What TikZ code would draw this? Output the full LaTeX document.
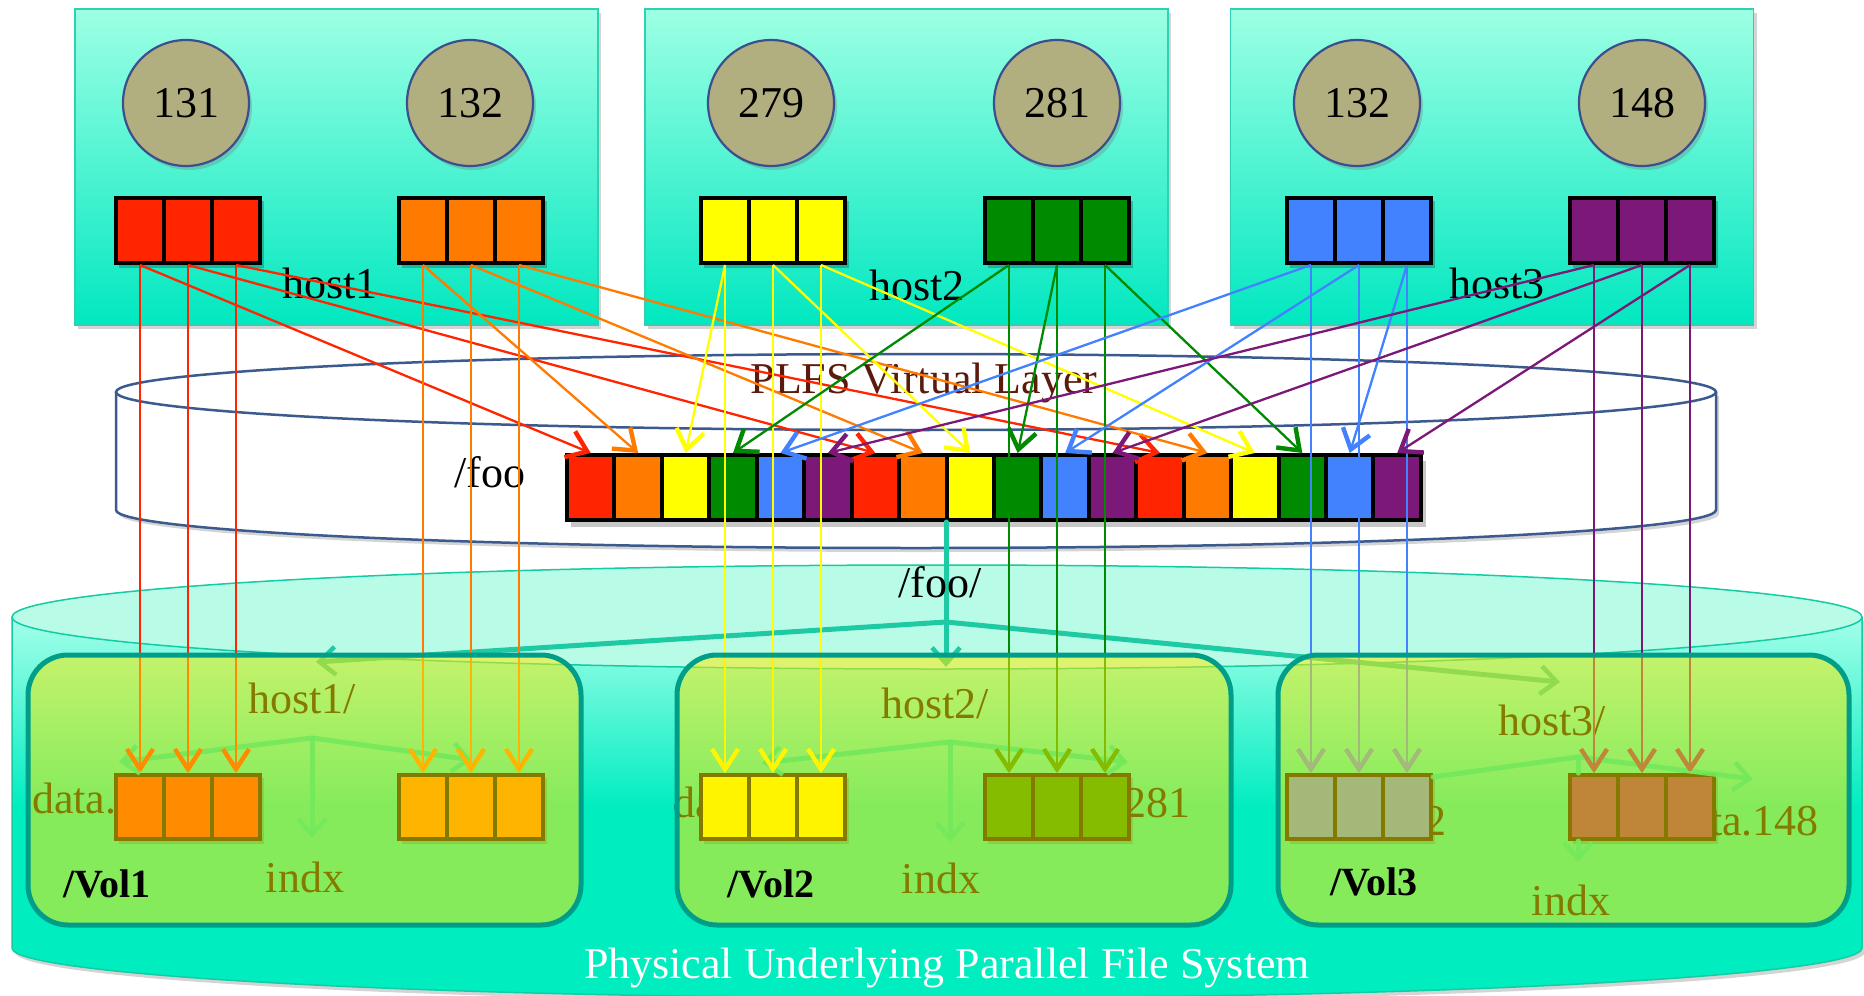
\documentclass[tikz,border=0pt]{standalone}
\usepackage{fontspec}
\setmainfont{Liberation Serif}
\usetikzlibrary{arrows.meta,shadows}

\definecolor{cRed}{HTML}{FF2500}
\definecolor{cOrange}{HTML}{FF7B00}
\definecolor{cYellow}{HTML}{FFFF00}
\definecolor{cGreen}{HTML}{008A00}
\definecolor{cBlue}{HTML}{4282FF}
\definecolor{cPurple}{HTML}{7B1878}
\definecolor{volTint}{RGB}{255,235,0}
\colorlet{pal0}{cRed}
\colorlet{pal1}{cOrange}
\colorlet{pal2}{cYellow}
\colorlet{pal3}{cGreen}
\colorlet{pal4}{cBlue}
\colorlet{pal5}{cPurple}
% the same colours seen through the tinted volume panels
\colorlet{tint0}{volTint!52!cRed}
\colorlet{tint1}{volTint!52!cOrange}
\colorlet{tint2}{volTint!52!cYellow}
\colorlet{tint3}{volTint!52!cGreen}
\colorlet{tint4}{volTint!52!cBlue}
\colorlet{tint5}{volTint!52!cPurple}
\definecolor{hostTop}{HTML}{9EFFE4}
\definecolor{hostBot}{HTML}{00E8C0}
\definecolor{hostEdge}{HTML}{2ED2B2}
\definecolor{procFill}{HTML}{B1AE80}
\definecolor{procEdge}{HTML}{3E4E8C}
\definecolor{plfsEdge}{HTML}{3B5B8E}
\definecolor{plfsText}{HTML}{5C1A0C}
\definecolor{pfsTop}{HTML}{A4FFEA}
\definecolor{pfsBot}{HTML}{00EDC0}
\definecolor{pfsLid}{HTML}{B8FCE8}
\definecolor{pfsEdge}{HTML}{14CCA4}
\definecolor{treeTeal}{HTML}{1ECAA4}
\definecolor{volTree}{HTML}{74E85C}
\definecolor{volEdge}{HTML}{009E88}

\newcommand\figfont{\fontsize{44}{52}\selectfont}
\newcommand\volfont{\fontsize{40}{48}\selectfont\bfseries}

\begin{document}
\begin{tikzpicture}[x=1pt,y=-1pt,
  softshadow/.style={drop shadow={shadow xshift=3pt,shadow yshift=-4pt,opacity=0.3,fill=black!55}},
  hostbox/.style={draw=hostEdge,line width=1.5pt,top color=hostTop,bottom color=hostBot,
    minimum width=523pt,minimum height=316pt,inner sep=0pt,softshadow},
  proc/.style={circle,minimum size=126pt,inner sep=0pt,fill=procFill,draw=procEdge,
    line width=2.2pt,softshadow,font=\figfont},
  cell/.style={draw=black,line width=4pt,minimum width=48pt,minimum height=65pt,inner sep=0pt},
  barcell/.style={cell,minimum width=47.44pt},
  txt/.style={font=\figfont,inner sep=0pt,anchor=base},
  voltxt/.style={font=\volfont,inner sep=0pt,anchor=base west},
  feedarrow/.style={line width=2.3pt,-{Straight Barb[length=19pt,width=28pt,line width=4.4pt]}},
  downarrow/.style={line width=2pt,-{Straight Barb[length=20pt,width=26pt,line width=4.2pt]}},
  treearrow/.style={draw=treeTeal,line width=5pt,line cap=round,
    -{Straight Barb[length=16pt,width=28pt,line width=4.5pt]}},
  subtree/.style={treearrow,draw=volTree,draw opacity=0.9},
  volbox/.style={draw=volEdge,line width=5pt,rounded corners=40pt,fill=volTint,fill opacity=0.52,
    inner sep=0pt,minimum height=270pt},
  blockshade/.style={fill=black,opacity=0.22},
  plfsline/.style={draw=plfsEdge,line width=2.5pt},
  pfsline/.style={draw=pfsEdge,line width=1.5pt}
]
\useasboundingbox (0,0) rectangle (1864,996);
\fill[white] (0,0) rectangle (1864,996);

% ---- physical parallel file system cylinder
\path[softshadow,top color=pfsTop,bottom color=pfsBot,middle color=pfsBot]
  (12,617) -- (12,948) arc[start angle=180,end angle=0,x radius=925,y radius=50] -- (1862,617) -- cycle;
\draw[pfsline] (12,617) -- (12,948) arc[start angle=180,end angle=0,x radius=925,y radius=50] -- (1862,617);
\draw[pfsline,fill=pfsLid] (937,617) ellipse[x radius=925,y radius=52];

% ---- hosts
\node[hostbox] (host1box) at (336.5,167) {};
\node[hostbox] (host2box) at (906.5,167) {};
\node[hostbox] (host3box) at (1492,167) {};

\node[proc] (p131) at (186,103) {131};
\node[proc] (p132a) at (470,103) {132};
\node[proc] (p279) at (771,103) {279};
\node[proc] (p281) at (1057,103) {281};
\node[proc] (p132b) at (1357,103) {132};
\node[proc] (p148) at (1642,103) {148};

\node[txt] (h1lbl) at (330,298) {host1};
\node[txt] (h2lbl) at (917,300) {host2};
\node[txt] (h3lbl) at (1497,298) {host3};

\foreach \c/\xl in {0/116,1/399,2/701,3/985,4/1287,5/1570}{
  \fill[blockshade] ({\xl+3},201) rectangle ({\xl+148},268);
  \foreach \k in {0,1,2}{
    \node[cell,fill=pal\c] (h\c\k) at ({\xl+24+48*\k},230.5) {};
  }
}

% ---- PLFS virtual layer cylinder
\fill[white,softshadow] (116,392) -- (116,510) arc[start angle=180,end angle=0,x radius=800,y radius=38] -- (1716,392) -- cycle;
\draw[plfsline] (116,392) -- (116,510) arc[start angle=180,end angle=0,x radius=800,y radius=38] -- (1716,392);
\draw[plfsline,fill=white] (916,392) ellipse[x radius=800,y radius=38];

\node[txt,text=plfsText] (plfslbl) at (924,393) {PLFS Virtual Layer};
\node[txt] (foolbl) at (490,487) {/foo};

\fill[blockshade] (571,461) rectangle (1426,527);
\foreach \i in {0,...,17}{
  \pgfmathtruncatemacro\m{mod(\i,6)}
  \node[barcell,fill=pal\m] (b\i) at ({590.72+47.44*\i},487.5) {};
}

% ---- container tree of /foo/
\coordinate (fj) at (946,622);
\coordinate (fd) at (946,667);
\coordinate (fl) at (316,662);
\coordinate (fr) at (1560,682);
\draw[treearrow,-] (b7.south east -| fj) -- (fj);
\draw[treearrow] (fj) -- (fl);
\draw[treearrow] (fj) -- (fr);
\draw[treearrow] (fj) -- (fd);
\node[txt] (foodir) at (940,597) {/foo/};

% ---- volume contents
\node[txt,anchor=base west] (d131) at (32,813) {data.131};
\node[txt,anchor=base west] (d132) at (397,813) {data.132};
\node[txt,anchor=base west] (d279) at (673,817) {data.279};
\node[txt,anchor=base east] (d281) at (1191,817) {data.281};
\node[txt,anchor=base east] (d132b) at (1447,835) {data.132};
\node[txt,anchor=base east] (d148) at (1819,835) {data.148};

\node[txt] (s1lbl) at (302,713) {host1/};
\node[txt] (s2lbl) at (935,718) {host2/};
\node[txt] (s3lbl) at (1552,735) {host3/};
\node[txt] (x1lbl) at (305,892) {indx};
\node[txt] (x2lbl) at (941,893) {indx};
\node[txt] (x3lbl) at (1571,915) {indx};

\foreach \c/\xl in {0/116,1/399,2/701,3/985,4/1287,5/1570}{
  \fill[blockshade] ({\xl+3},778) rectangle ({\xl+148},844);
  \foreach \k in {0,1,2}{
    \node[cell,fill=pal\c,minimum height=64pt] (v\c\k) at ({\xl+24+48*\k},807) {};
  }
}

% ---- writes into the virtual file and onto the volumes
\foreach \c in {0,...,5}{
  \foreach \k in {0,1,2}{
    \pgfmathtruncatemacro\i{6*\k+\c}
    \draw[feedarrow,draw=pal\c] (h\c\k.south) -- (b\i.north);
    \draw[downarrow,draw=pal\c] (h\c\k.south) -- (v\c\k.north);
  }
}

% ---- volumes
\node[volbox,minimum width=553pt] (vol1) at (304.5,790) {};
\node[volbox,minimum width=554pt] (vol2) at (954,790) {};
\node[volbox,minimum width=571pt] (vol3) at (1563.5,790) {};

% ---- per-host subdirectory trees
\coordinate (t1j) at (312,738); \coordinate (t1l) at (119,762);
\coordinate (t1r) at (472,760); \coordinate (t1d) at (312,838);
\coordinate (t2j) at (950,742); \coordinate (t2l) at (762,763);
\coordinate (t2r) at (1128,762); \coordinate (t2d) at (950,842);
\coordinate (t3j) at (1578,757); \coordinate (t3r) at (1753,779);
\coordinate (t3d) at (1578,862);
\foreach \t in {1,2}{
  \draw[subtree] (t\t j) -- (t\t l);
  \draw[subtree] (t\t j) -- (t\t r);
  \draw[subtree] (t\t j) -- (t\t d);
}
\draw[subtree,-] (t3j) -- (v42.north east |- 0,777);
\draw[subtree] (t3j) -- (t3r);
\draw[subtree,-] (t3j) -- (t3j |- v50.north);
\draw[subtree] (t3j |- v50.south) -- (t3d);

% the write arrows' heads lie on top of the subdirectory trees
\begin{scope}
  \clip (0,700) rectangle (1864,770);
  \foreach \c in {0,...,5}{
    \foreach \k in {0,1,2}{
      \draw[downarrow,draw=tint\c] (h\c\k.south) -- (v\c\k.north);
    }
  }
\end{scope}

\node[voltxt] (vol1lbl) at (63,897) {/Vol1};
\node[voltxt] (vol2lbl) at (727,897) {/Vol2};
\node[voltxt] (vol3lbl) at (1330,895) {/Vol3};

\node[txt,text=white] (pfslbl) at (947,978) {Physical Underlying Parallel File System};
\end{tikzpicture}
\end{document}
